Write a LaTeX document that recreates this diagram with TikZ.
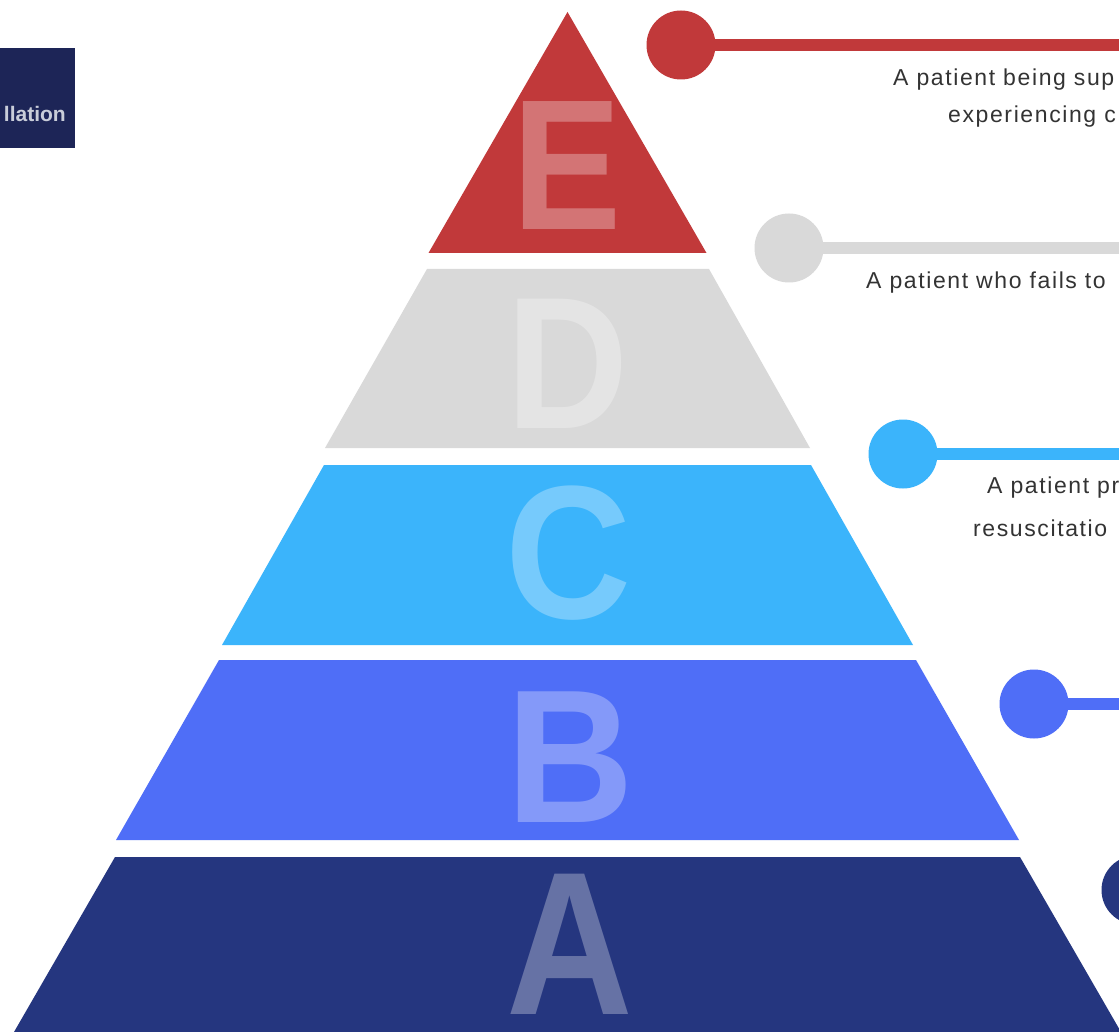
\documentclass[tikz,border=0pt]{standalone}
\usepackage{fontspec}
\setmainfont{Liberation Sans}
\newfontfamily\notefont[LetterSpace=7]{Liberation Sans}
\definecolor{lvE}{HTML}{C1393A}
\definecolor{lvD}{HTML}{D9D9D9}
\definecolor{lvC}{HTML}{3BB4FB}
\definecolor{lvB}{HTML}{4F6EF7}
\definecolor{lvA}{HTML}{25367F}
\definecolor{tagbg}{HTML}{1D2557}
\definecolor{tagfg}{HTML}{C9CDD9}
\definecolor{ink}{HTML}{333333}
\begin{document}
\begin{tikzpicture}[x=1pt,y=-1pt,
  layer/.style={fill=#1,draw=none},
  letter/.style={text=white,text opacity=0.3,inner sep=0pt,
    font=\fontsize{#1}{#1}\selectfont\bfseries},
  dot/.style={circle,fill=#1,draw=none,minimum size=69pt,inner sep=0pt},
  lead/.style={draw=#1,line width=12pt},
  note/.style={text=ink,inner sep=0pt,anchor=west,
    font=\notefont\fontsize{23}{23}\selectfont}]
\useasboundingbox (0,0) rectangle (1119,1032);
\clip (0,0) rectangle (1119,1032);
\fill[white] (0,0) rectangle (1119,1032);

% corner tab
\fill[tagbg] (-2,48) rectangle (75,148);
\node[text=tagfg,inner sep=0pt,anchor=east,font=\fontsize{21}{21}\selectfont\bfseries]
  (tag) at (66,114) {llation};

% pyramid tiers
\fill[layer=lvE] (567.5,12) -- (706.5,253) -- (428.5,253) -- cycle;
\fill[layer=lvD] (427,269) -- (709,269) -- (810,448) -- (325,448) -- cycle;
\fill[layer=lvC] (324,465) -- (811,465) -- (913,645) -- (222,645) -- cycle;
\fill[layer=lvB] (219,660) -- (916,660) -- (1019,840) -- (116,840) -- cycle;
\fill[layer=lvA] (115,857) -- (1020,857) -- (1121,1032) -- (14,1032) -- cycle;

% tier letters
\node[letter=186] (lE) at (567.5,166) {\scalebox{0.88}[1]{E}};
\node[letter=188] (lD) at (568,364) {\scalebox{0.9}[1]{D}};
\node[letter=190] (lC) at (569,553) {\scalebox{0.92}[1]{C}};
\node[letter=190] (lB) at (570,757) {\scalebox{0.93}[1]{B}};
\node[letter=204] (lA) at (570,944) {\scalebox{0.86}[1]{A}};

% leader dots and lines
\node[dot=lvE] (dE) at (681,45) {};
\node[dot=lvD] (dD) at (789,248) {};
\node[dot=lvC] (dC) at (903,454) {};
\node[dot=lvB] (dB) at (1034,704) {};
\node[dot=lvA] (dA) at (1136,890) {};
\coordinate (eE) at (1130,45);
\coordinate (eD) at (1130,248);
\coordinate (eC) at (1130,454);
\coordinate (eB) at (1130,704);
\draw[lead=lvE] (dE.center) -- (eE);
\draw[lead=lvD] (dD.center) -- (eD);
\draw[lead=lvC] (dC.center) -- (eC);
\draw[lead=lvB] (dB.center) -- (eB);

% descriptions
\node[note] (tE1) at (893,80) {A patient being sup};
\node[note] (tE2) at (948,117) {experiencing c};
\node[note] (tD1) at (866,283) {A patient who fails to};
\node[note] (tC1) at (987,488) {A patient pr};
\node[note] (tC2) at (973,528) {resuscitatio};
\end{tikzpicture}
\end{document}
